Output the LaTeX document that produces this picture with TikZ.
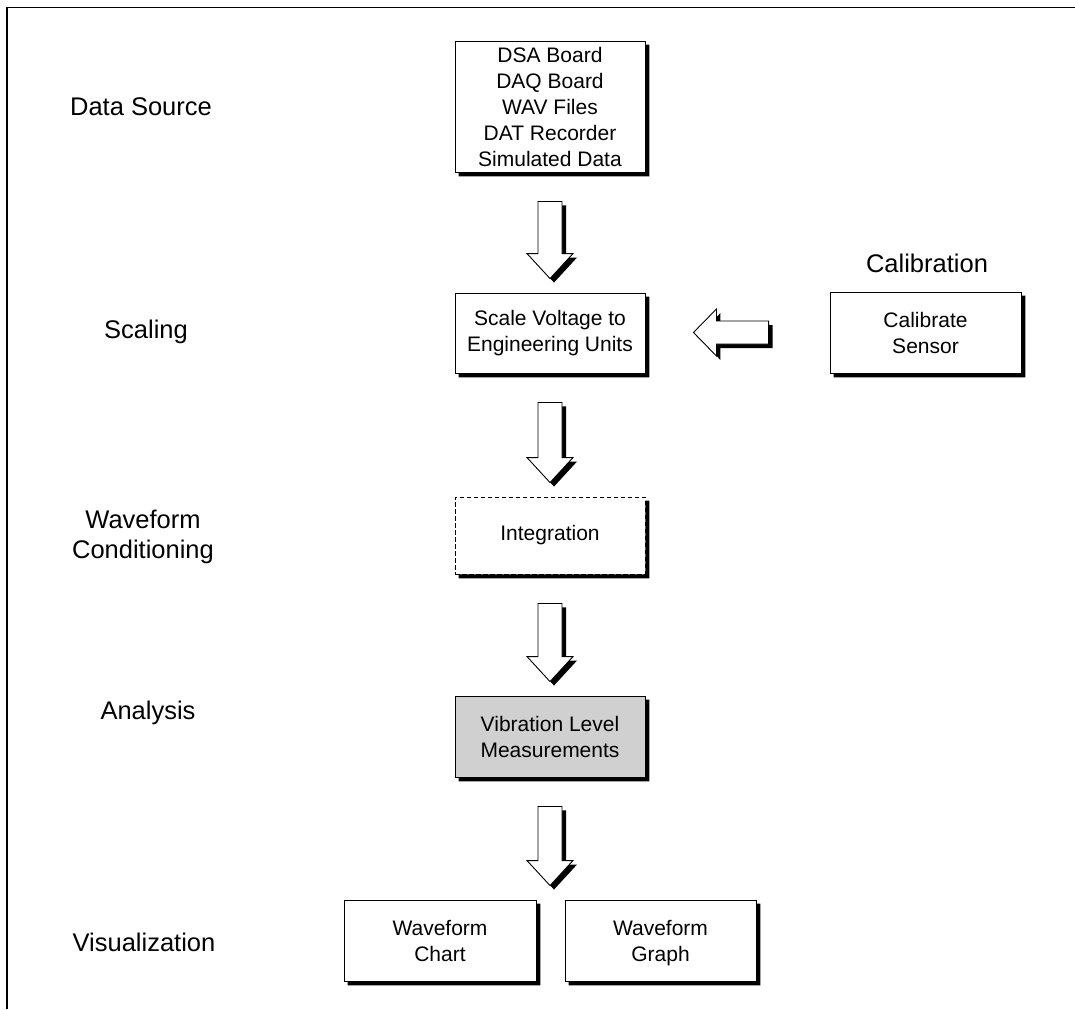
\documentclass[tikz,border=0pt]{standalone}
\usepackage{fontspec}
\setmainfont{Liberation Sans}
\usetikzlibrary{calc}
\definecolor{panelgray}{RGB}{208,208,208}

% offset of the solid shadow behind blocks and arrows
\newcommand\shd{4pt}

% L-shaped solid shadow at the lower right of a block
\newcommand\boxshadow[1]{%
  \fill[black] let \p1=(#1.north east), \p2=(#1.south west) in
    (\x1,\y1-\shd) -- (\x1+\shd,\y1-\shd) -- (\x1+\shd,\y2-\shd)
    -- (\x2+\shd,\y2-\shd) -- (\x2+\shd,\y2) -- (\x1,\y2) -- cycle;}

% hollow block arrow pointing down, from below node #1 to above node #2,
% offset by (#3,#4)
\newcommand\flowdownpath[5]{%
  \path[#5] let \p1=(#1.south), \p2=(#2.north) in
    (\x1-12pt+#3,\y1-29pt+#4) -- (\x1+12pt+#3,\y1-29pt+#4)
    -- (\x1+12pt+#3,\y2+39pt+#4) -- (\x1+23pt+#3,\y2+39pt+#4)
    -- (\x1+#3,\y2+14pt+#4) -- (\x1-23pt+#3,\y2+39pt+#4)
    -- (\x1-12pt+#3,\y2+39pt+#4) -- cycle;}
\newcommand\flowdown[2]{%
  \flowdownpath{#1}{#2}{\shd}{-\shd}{fill=black}%
  \flowdownpath{#1}{#2}{0pt}{0pt}{fill=white,draw,line width=0.9pt}}

% hollow block arrow pointing left, from node #1 (right) to node #2 (left)
\newcommand\flowleftpath[5]{%
  \path[#5] let \p1=(#1.west), \p2=(#2.east) in
    (\x1-61pt+#3,\y1+11.5pt+#4) -- (\x2+71pt+#3,\y1+11.5pt+#4)
    -- (\x2+71pt+#3,\y1+23.5pt+#4) -- (\x2+48pt+#3,\y1+#4)
    -- (\x2+71pt+#3,\y1-23.5pt+#4) -- (\x2+71pt+#3,\y1-11.5pt+#4)
    -- (\x1-61pt+#3,\y1-11.5pt+#4) -- cycle;}
\newcommand\flowleft[2]{%
  \flowleftpath{#1}{#2}{\shd}{-\shd}{fill=black}%
  \flowleftpath{#1}{#2}{0pt}{0pt}{fill=white,draw,line width=0.9pt}}

% last line without descender depth, so two-line blocks centre alike
\newcommand\nodepth[1]{\raisebox{0pt}[\height][0pt]{#1}}

\begin{document}
\begin{tikzpicture}[x=1pt,y=-1pt,
  box/.style={draw,line width=0.9pt,fill=white,minimum width=190pt,
    align=center,inner sep=0pt,font=\fontsize{21}{26}\selectfont},
  stage/.style={align=center,font=\fontsize{25.5}{30}\selectfont}]

\useasboundingbox (0,0) rectangle (1075,1009);

% page frame (top and left rules)
\draw[line width=1.7pt] (6.7,1009) -- (6.7,7.5) -- (1075,7.5);

% stage labels
\node[stage] (lsrc)  at (141,107) {Data Source};
\node[stage] (lscl)  at (146,332) {Scaling};
\node[stage] (lcond) at (143,537) {Waveform\\Conditioning};
\node[stage] (lana)  at (148,713) {Analysis};
\node[stage] (lvis)  at (144,942) {Visualization};
\node[stage] (lcal)  at (927,263) {Calibration};

% processing blocks
\node[box,minimum height=131pt] (src) at (550,106.5)
  {DSA Board\\DAQ Board\\WAV Files\\DAT Recorder\\Simulated Data};
\node[box,minimum height=80pt] (scl) at (550,333)
  {Scale Voltage to\\Engineering Units};
\node[box,minimum width=191pt,minimum height=81pt] (cal) at (925.5,332.5)
  {Calibrate\\Sensor};
\node[box,dash pattern=on 4.5pt off 2.5pt,minimum height=77pt] (intg) at (550,535.5)
  {Integration};
\node[box,fill=panelgray,minimum height=81pt] (vib) at (550,736.5)
  {Vibration Level\\Measurements};
\node[box,minimum width=192pt,minimum height=81pt] (chart) at (440,940.5)
  {Waveform\\Chart};
\node[box,minimum width=191pt,minimum height=81pt] (graph) at (660.5,940.5)
  {Waveform\\\nodepth{Graph}};

\foreach \b in {src,scl,cal,intg,vib,chart,graph} {\boxshadow{\b}}

% block arrows
\flowdown{src}{scl}
\flowdown{scl}{intg}
\flowdown{intg}{vib}
\flowdown{vib}{chart}
\flowleft{cal}{scl}

\end{tikzpicture}
\end{document}
